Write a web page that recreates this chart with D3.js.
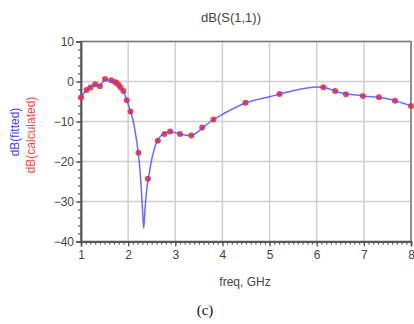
<!DOCTYPE html>
<html>
<head>
<meta charset="utf-8">
<script src="https://cdn.jsdelivr.net/npm/d3@7"></script>
<style>
  body { margin: 0; background: #fff; }
  svg { display: block; font-family: Arial, "Liberation Sans", sans-serif; }
</style>
</head>
<body>
<div id="chart"></div>
<script>
// calculated S11 (red markers)
const calcFreq = [1.0, 1.12, 1.2, 1.3, 1.4, 1.51, 1.64, 1.72, 1.76, 1.8, 1.84, 1.9, 1.97, 2.05, 2.22, 2.42,
  2.63, 2.77, 2.89, 3.1, 3.34, 3.57, 3.81, 4.49, 5.21, 6.14, 6.39, 6.62, 6.98, 7.32, 7.66, 8.0];
const calcDb = [-4.0, -2.1, -1.5, -0.7, -1.2, 0.6, 0.3, -0.1, -0.4, -0.9, -1.5, -2.4, -4.7, -7.5, -17.8, -24.3,
  -14.8, -13.1, -12.5, -13.1, -13.5, -11.5, -9.5, -5.3, -3.1, -1.45, -2.4, -3.2, -3.6, -3.95, -4.8, -6.1];

// fitted S11 (blue line)
const fitFreq = [1.0, 1.1, 1.2, 1.3, 1.4, 1.5, 1.6, 1.7, 1.8, 1.9, 2.0, 2.1, 2.2, 2.25, 2.3, 2.33, 2.36, 2.4,
  2.43, 2.5, 2.6, 2.7, 2.8, 2.9, 3.0, 3.1, 3.2, 3.35, 3.5, 3.75, 4.0, 4.5, 5.0, 5.5, 6.0, 6.2, 6.5, 7.0, 7.5, 8.0];
const fitDb = [-4.0, -2.4, -1.4, -0.8, -1.1, 0.4, 0.3, -0.1, -1.0, -2.5, -5.6, -9.5, -16.5, -22, -31, -36.7,
  -31.5, -26.5, -24.3, -19.5, -15.3, -13.5, -12.8, -12.6, -12.8, -13.1, -13.4, -13.5, -12.4, -10, -8.2, -5.3,
  -3.8, -2.3, -1.4, -1.6, -2.8, -3.6, -4.3, -6.1];

const xMajor = [1, 2, 3, 4, 5, 6, 7, 8];
const yMajor = [10, 0, -10, -20, -30, -40];

const W = 414, H = 324;
const m = { left: 81, right: 3, top: 41.5, bottom: 82.5 };

const svg = d3.select("#chart").append("svg")
  .attr("width", W)
  .attr("height", H);

const x = d3.scaleLinear().domain([1, 8]).range([m.left, W - m.right]);
const y = d3.scaleLinear().domain([-40, 10]).range([H - m.bottom, m.top]);

// grid
svg.append("g").selectAll("line")
  .data(xMajor)
  .enter().append("line")
  .attr("x1", d => x(d)).attr("x2", d => x(d))
  .attr("y1", y(10)).attr("y2", y(-40))
  .attr("stroke", "#d0d0d0")
  .attr("stroke-width", 1.5);
svg.append("g").selectAll("line")
  .data(yMajor)
  .enter().append("line")
  .attr("x1", x(1)).attr("x2", x(8))
  .attr("y1", d => y(d)).attr("y2", d => y(d))
  .attr("stroke", "#d0d0d0")
  .attr("stroke-width", 1.5);

// frame
svg.append("rect")
  .attr("x", x(1)).attr("y", y(10))
  .attr("width", x(8) - x(1)).attr("height", y(-40) - y(10))
  .attr("fill", "none")
  .attr("stroke", "#777")
  .attr("stroke-width", 1.5);

// minor ticks
const xMinor = svg.append("g")
  .attr("transform", `translate(0,${y(-40)})`)
  .call(d3.axisBottom(x).tickValues(d3.range(10, 81).map(d => d / 10)).tickSize(3).tickFormat(""));
const yMinor = svg.append("g")
  .attr("transform", `translate(${x(1)},0)`)
  .call(d3.axisLeft(y).tickValues(d3.range(-40, 11, 2)).tickSize(3).tickFormat(""));

// major ticks + labels
const xAxis = svg.append("g")
  .attr("transform", `translate(0,${y(-40)})`)
  .call(d3.axisBottom(x).tickValues(xMajor).tickSize(5).tickPadding(4).tickFormat(d3.format("d")));
const yAxis = svg.append("g")
  .attr("transform", `translate(${x(1)},0)`)
  .call(d3.axisLeft(y).tickValues(yMajor).tickSize(5).tickPadding(2).tickFormat(d3.format("d")));

[xMinor, yMinor, xAxis, yAxis].forEach(g => {
  g.select(".domain").attr("stroke", "#555").attr("stroke-width", 1.5);
  g.selectAll(".tick line").attr("stroke", "#555").attr("stroke-width", 1.2);
  g.selectAll(".tick text").attr("fill", "#444").attr("font-size", 12);
});

// calculated markers
svg.append("g").selectAll("circle")
  .data(calcFreq.map((f, i) => [f, calcDb[i]]))
  .enter().append("circle")
  .attr("cx", d => x(d[0]))
  .attr("cy", d => y(d[1]))
  .attr("r", 3)
  .attr("fill", "#ff2a2a")
  .attr("opacity", 0.9);

// fitted line
const line = d3.line()
  .x(d => x(d[0]))
  .y(d => y(d[1]))
  .curve(d3.curveCatmullRom.alpha(0.5));
svg.append("path")
  .datum(fitFreq.map((f, i) => [f, fitDb[i]]))
  .attr("d", line)
  .attr("fill", "none")
  .attr("stroke", "#5050ff")
  .attr("stroke-width", 1.5)
  .attr("opacity", 0.85);

// texts
svg.append("text")
  .attr("x", 231).attr("y", 22)
  .attr("text-anchor", "middle")
  .attr("font-size", 13)
  .attr("fill", "#444")
  .text("dB(S(1,1))");

svg.append("text")
  .attr("x", 245).attr("y", 286)
  .attr("text-anchor", "middle")
  .attr("font-size", 12)
  .attr("fill", "#444")
  .text("freq, GHz");

svg.append("text")
  .attr("transform", "translate(19,132) rotate(-90)")
  .attr("text-anchor", "middle")
  .attr("font-size", 12)
  .attr("fill", "#4040ff")
  .text("dB(fitted)");
svg.append("text")
  .attr("transform", "translate(35,135) rotate(-90)")
  .attr("text-anchor", "middle")
  .attr("font-size", 12)
  .attr("fill", "#ff4040")
  .text("dB(calculated)");

svg.append("text")
  .attr("x", 205).attr("y", 315)
  .attr("text-anchor", "middle")
  .attr("font-family", "'Liberation Serif', 'Times New Roman', serif")
  .attr("font-size", 15)
  .attr("fill", "#111")
  .text("(c)");
</script>
</body>
</html>
